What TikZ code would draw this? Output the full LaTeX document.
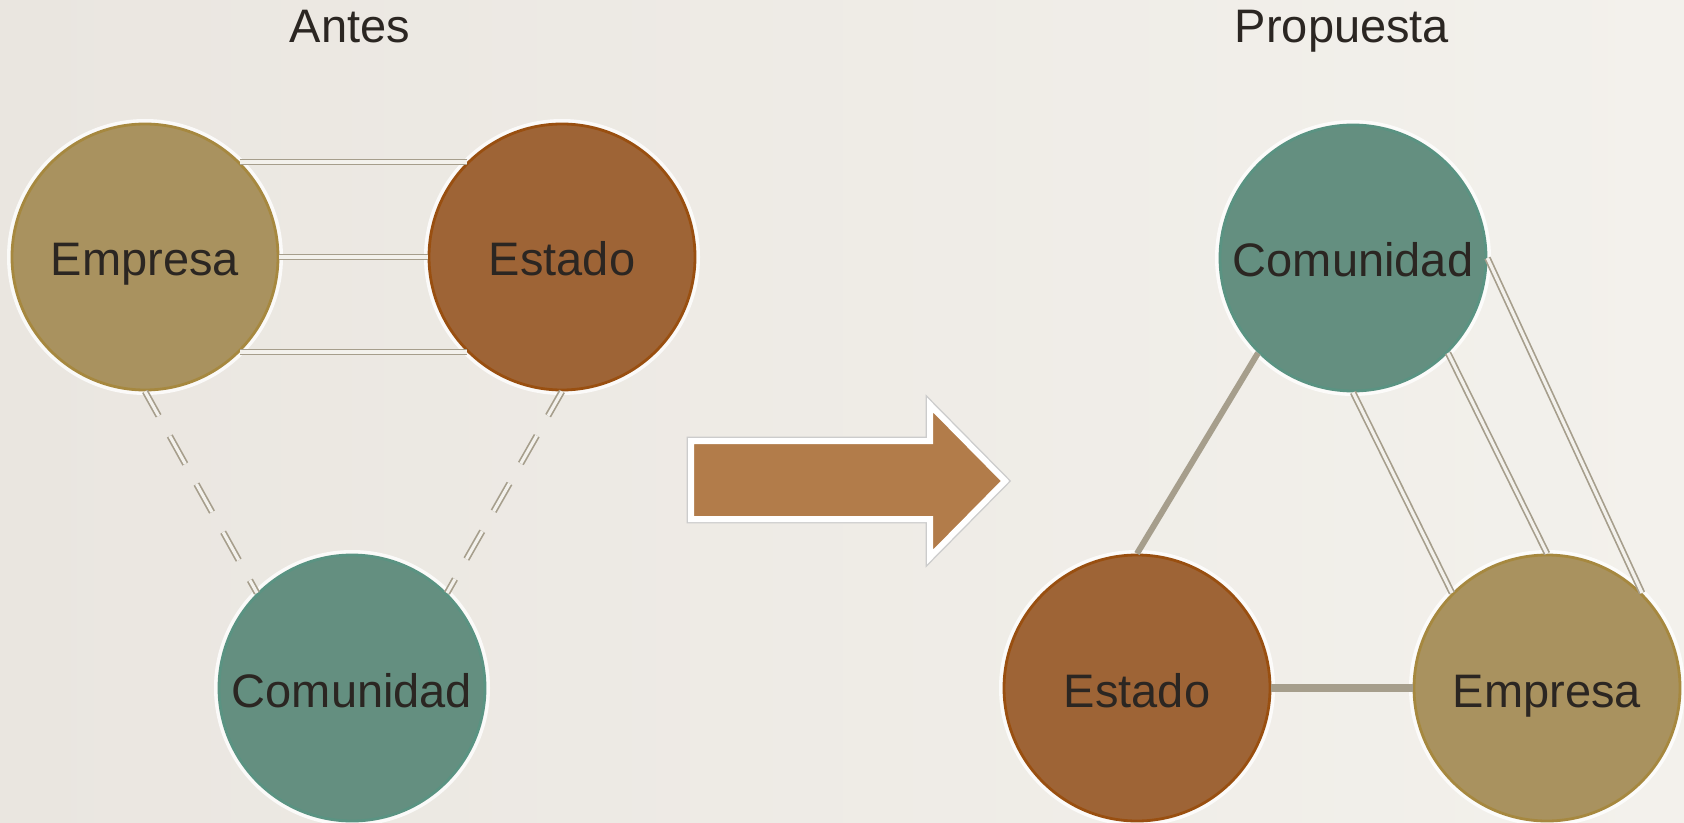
\documentclass[tikz,border=0pt]{standalone}
\usepackage{fontspec}
\setmainfont{Liberation Sans}
\usepackage{tikz}
\usetikzlibrary{shapes,arrows,calc}
\definecolor{fondoL}{HTML}{EAE6E0}
\definecolor{fondoR}{HTML}{F3F1EC}
\definecolor{empF}{HTML}{A9925F}
\definecolor{empB}{HTML}{A6883F}
\definecolor{estF}{HTML}{9E6436}
\definecolor{estB}{HTML}{994F10}
\definecolor{comF}{HTML}{648F80}
\definecolor{comB}{HTML}{5A9382}
\definecolor{flechaF}{HTML}{B27C4A}
\definecolor{linea}{HTML}{A69E8C}
\definecolor{texto}{HTML}{2B2622}
\tikzstyle{circ}   = [circle, minimum size=133pt, inner sep=0pt, line width=1.4pt, text=texto, text height=19pt, text depth=0pt, font=\fontsize{23.5}{28}\selectfont, preaction={draw=white, line width=5pt, opacity=0.8}]
\tikzstyle{emp}    = [circ, fill=empF, draw=empB]
\tikzstyle{est}    = [circ, fill=estF, draw=estB]
\tikzstyle{com}    = [circ, fill=comF, draw=comB]
\tikzstyle{titulo} = [text=texto, font=\fontsize{23.5}{28}\selectfont, anchor=base]
\tikzstyle{dbl}    = [draw=linea, line width=0.85pt, double=fondoR, double distance=1.6pt]
\tikzstyle{dsh}    = [dbl, dash pattern=on 16pt off 11.5pt, dash phase=2pt]
\tikzstyle{lin}    = [draw=linea, line width=3pt]
\tikzstyle{flecha} = [fill=flechaF, draw=white, line width=3pt, line join=miter, preaction={draw=black!20, line width=4.4pt}]

\begin{document}
\begin{tikzpicture}[x=0.5pt, y=-0.5pt]

    \useasboundingbox (0,0) rectangle (1684,823);
    \shade[left color=fondoL, right color=fondoR] (0,0) rectangle (1684,823);

    % Antes
    \node[titulo] (antes) at (350,43) {Antes};
    \node[emp] (empA) at (145,257) {Empresa};
    \node[est] (estA) at (562,257) {Estado};
    \node[com] (comA) at (352,688) {Comunidad};

    \path[dbl] (empA.45)  -- (estA.135);
    \path[dbl] (empA.east) -- (estA.west);
    \path[dbl] (empA.-45) -- (estA.-135);
    \path[dsh] (empA.south) -- (comA.135);
    \path[dsh] (estA.south) -- (comA.45);

    % flecha
    \draw[flecha] (691,441) -- (930,441) -- (930,405) -- (1005,481)
        -- (930,557) -- (930,519) -- (691,519) -- cycle;

    % Propuesta
    \node[titulo] (propuesta) at (1342,43) {Propuesta};
    \node[com] (comP) at (1353,258) {Comunidad};
    \node[est] (estP) at (1137,688) {Estado};
    \node[emp] (empP) at (1547,688) {Empresa};

    \path[lin] (comP.-135) -- (estP.north);
    \path[lin, line width=3.6pt] (estP.east) -- (empP.west);
    \path[dbl] (comP.south) -- (empP.135);
    \path[dbl] (comP.-45) -- (empP.90);
    \path[dbl] (comP.east) -- (empP.45);

\end{tikzpicture}
\end{document}
